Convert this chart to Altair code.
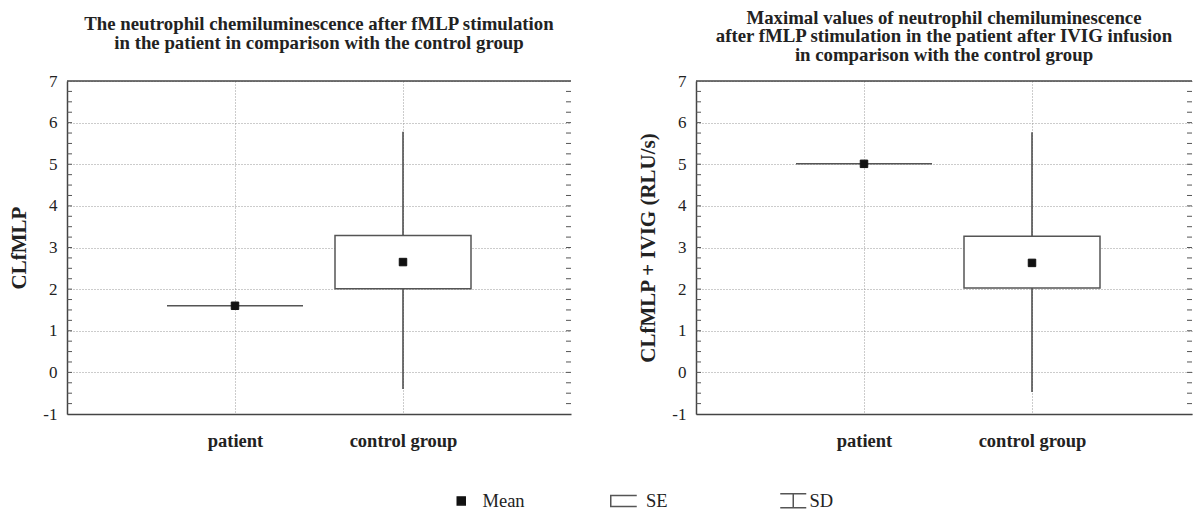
import altair as alt
import pandas as pd

# ---------------- data ----------------
categories = ["patient", "control group"]

left_mean = [1.60, 2.65]
left_se_low = [1.60, 2.01]
left_se_high = [1.60, 3.29]
left_sd_low = [1.60, -0.40]
left_sd_high = [1.60, 5.78]

right_mean = [5.01, 2.63]
right_se_low = [5.01, 2.03]
right_se_high = [5.01, 3.27]
right_sd_low = [5.01, -0.47]
right_sd_high = [5.01, 5.77]

left_title = ["The neutrophil chemiluminescence after fMLP stimulation",
              "in the patient in comparison with the control group"]
right_title = ["Maximal values of neutrophil chemiluminescence",
               "after fMLP stimulation in the patient after IVIG infusion",
               "in comparison with the control group"]
left_ytitle = "CLfMLP"
right_ytitle = "CLfMLP + IVIG (RLU/s)"

y_ticks = [-1, 0, 1, 2, 3, 4, 5, 6, 7]
minor_ticks = [-1 + 0.25 * i for i in range(1, 32)]

legend_keys = ["Mean", "SE", "SD"]
legend_shapes = ["M-3.75,0M4.5,0M-1,-1H1V1H-1Z",
                 "M-3.75,0M4.5,0M3,-1.375H-3.5V1.375H3",
                 "M-3.75,0M4.5,0M-2,-1.75H4.5M1.25,-1.75V1.75M-2,1.75H4.5"]
legend_fills = ["#111111", "transparent", "transparent"]
legend_strokes = ["#111111", "#555555", "#555555"]

FONT = "Liberation Serif"
H = 333
TXT = "#222222"


def panel(title, ytitle, mean, se_lo, se_hi, sd_lo, sd_hi, title_offset,
          width, pad, align):
    df = pd.DataFrame({"group": categories, "mean": mean, "se_lo": se_lo,
                       "se_hi": se_hi, "sd_lo": sd_lo, "sd_hi": sd_hi,
                       "key": ["Mean"] * len(categories)})
    xs = alt.Scale(type="point", domain=categories, padding=pad, align=align)
    ys = alt.Scale(domain=[-1, 7], nice=False, zero=False)
    x_axis = alt.Axis(title=None, labelAngle=0, labelFont=FONT, labelFontSize=18.5,
                      labelFontWeight="bold", labelColor=TXT, labelPadding=17,
                      ticks=False, domainColor="#444444", domainWidth=1.5,
                      grid=True, gridColor="#999999", gridDash=[1, 2], gridWidth=1)
    y_axis = alt.Axis(title=ytitle, values=y_ticks, labelFont=FONT, labelFontSize=17,
                      labelColor=TXT, labelPadding=10, ticks=False,
                      labelExpr="'' + datum.value",
                      domainColor="#444444", domainWidth=1.5,
                      grid=True, gridColor="#999999", gridDash=[1, 2], gridWidth=1,
                      titleFont=FONT, titleFontSize=21, titleFontWeight="bold",
                      titleColor=TXT, titlePadding=13)
    base = alt.Chart(df)
    whisk = base.mark_rule(color="#444444", strokeWidth=1.5).encode(
        x=alt.X("group:N", scale=xs, sort=categories, axis=x_axis),
        y=alt.Y("sd_lo:Q", scale=ys, axis=y_axis),
        y2="sd_hi:Q")
    box = base.mark_bar(size=136, fill="white", stroke="#555555", strokeWidth=1.5).encode(
        x=alt.X("group:N", scale=xs, sort=categories, axis=x_axis),
        y=alt.Y("se_lo:Q", scale=ys, axis=y_axis),
        y2="se_hi:Q")
    leg = alt.Legend(title=None)
    pts = base.mark_point(filled=True, size=56, opacity=1, strokeWidth=1).encode(
        x=alt.X("group:N", scale=xs, sort=categories, axis=x_axis),
        y=alt.Y("mean:Q", scale=ys, axis=y_axis),
        shape=alt.Shape("key:N", scale=alt.Scale(domain=legend_keys, range=legend_shapes), legend=leg),
        fill=alt.Fill("key:N", scale=alt.Scale(domain=legend_keys, range=legend_fills), legend=leg),
        stroke=alt.Stroke("key:N", scale=alt.Scale(domain=legend_keys, range=legend_strokes), legend=leg))
    tick_df = pd.DataFrame({"t": minor_ticks})
    ticks_l = alt.Chart(tick_df).mark_rule(color="#555555", strokeWidth=1).encode(
        y=alt.Y("t:Q", scale=ys, axis=y_axis), x=alt.value(0), x2=alt.value(5))
    ticks_r = alt.Chart(tick_df).mark_rule(color="#555555", strokeWidth=1).encode(
        y=alt.Y("t:Q", scale=ys, axis=y_axis), x=alt.value(width - 5), x2=alt.value(width))
    top = alt.Chart(pd.DataFrame({"a": [0]})).mark_rule(color="#444444", strokeWidth=1.5).encode(
        x=alt.value(0), x2=alt.value(width), y=alt.value(0))
    return alt.layer(whisk, box, pts, ticks_l, ticks_r, top).properties(
        width=width, height=H,
        title=alt.TitleParams(title, font=FONT, fontSize=18.8, fontWeight="bold",
                              color=TXT, anchor="middle", lineHeight=18.8,
                              offset=title_offset))


left = panel(left_title, left_ytitle, left_mean, left_se_low, left_se_high,
             left_sd_low, left_sd_high, 19, 504, 1, 0.5)
right = panel(right_title, right_ytitle, right_mean, right_se_low, right_se_high,
              right_sd_low, right_sd_high, 7, 496, 0.9762, 0.5122)

chart = alt.hconcat(left, right, spacing=64).properties(
    padding={"left": 0, "top": 0, "right": 0, "bottom": 0}
).configure_view(stroke="transparent").configure_legend(
    orient="none", legendX=385, legendY=410, direction="horizontal", columns=3,
    gridAlign="all", columnPadding=81.5, padding=0, symbolSize=64,
    symbolStrokeWidth=1.5, labelFont=FONT, labelFontSize=18.5, labelColor=TXT,
    labelOffset=12
)

chart.save("out.html", embed_options={"renderer": "svg", "actions": False})
